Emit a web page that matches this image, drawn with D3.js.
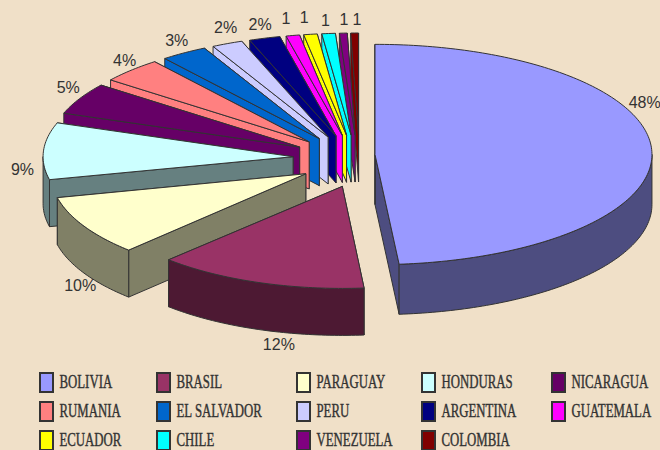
<!DOCTYPE html>
<html><head><meta charset="utf-8">
<script src="https://cdnjs.cloudflare.com/ajax/libs/d3/7.8.5/d3.min.js"></script>
<style>html,body{margin:0;padding:0;background:#F0E0C8;overflow:hidden}svg{display:block}</style>
</head><body><svg id="c" width="660" height="450"></svg>
<script>
// ---- data ----
const categories = ["BOLIVIA","BRASIL","PARAGUAY","HONDURAS","NICARAGUA","RUMANIA","EL SALVADOR","PERU","ARGENTINA","GUATEMALA","ECUADOR","CHILE","VENEZUELA","COLOMBIA"];
const values = [48,12,10,9,5,4,3,2,2,1,1,1,1,1];
const valueLabels = ["48%","12%","10%","9%","5%","4%","3%","2%","2%","1","1","1","1","1"];
const colors = ["#9999FF","#993366","#FFFFCC","#CCFFFF","#660066","#FF8080","#0066CC","#CCCCFF","#000080","#FF00FF","#FFFF00","#00FFFF","#800080","#800000"];
const sideColors = ["#4D4D80","#4D1933","#808066","#668080","#660066","#FF8080","#0066CC","#CCCCFF","#000080","#FF00FF","#FFFF00","#00FFFF","#800080","#800000"];

// ---- layout ----
const W = 660, H = 450, TAU = 2*Math.PI, RAD = Math.PI/180;
const rx = 250, ry = 102, depth = 47;
const ink = "#333333";
// perspective warp: true pie angle -> drawn ellipse parameter
const warp = d3.scaleLinear()
  .domain([0,.48,.60,.70,.95,.98,1].map(f => f*TAU))
  .range([0,175,224,257,347,356.4,360].map(a => a*RAD));
// label placement relative to each slice's rim
const labelShift = [[-7,-50],[24,62],[-4,63],[-21,18],[-13,-11],[-10,-10],[-12,-12],[-7,-16],[-10,-14],[-12,-17],[-11,-17],[-7,-13],[-2,-14],[1,-14]];
const legendX = [39,156,296,421,551], legendY = [372,401,430], legendPerRow = 5;

const svg = d3.select("#c");
svg.append("rect").attr("width",W).attr("height",H).attr("fill","#F0E0C8");

const pie = d3.pie().sort(null).value(d => d)(values);
const slices = pie.map((p,i) => {
  const t0 = warp(p.startAngle), t1 = warp(p.endAngle), tm = (t0+t1)/2;
  const s = Math.sin(tm), c = Math.cos(tm);
  // explosion of each slice, foreshortened differently on each side of the pie
  let ax, ay;
  if (s >= 0) { ax = 361 + 14*s; ay = 155.5 - 23*c; }
  else if (c > 0) { ax = 361 - 68*Math.pow(-s,.8); ay = 158 - 23*c; }
  else { ax = 365 + 68*s; ay = 160 - 28*c; }
  const grow = Math.max(0,s);
  const nearLeft = (c < 0 && s < -.5);   // front-left slices sit a little closer
  const Rx = rx*(1+.108*grow)*(nearLeft?1.02:1), Ry = ry*(1+.08*grow)*(nearLeft?1.04:1), D = depth*(1+.065*grow);
  const rim = t => [ax+Rx*Math.sin(t), ay-Ry*Math.cos(t)];
  return {i,t0,t1,tm,ax,ay,Rx,Ry,D,rim,fill:colors[i],side:sideColors[i]};
});

const line = d3.line();
const arcPts = (d,a,b) => { const n=Math.max(2,Math.ceil((b-a)/(1*RAD))); return d3.range(n+1).map(k=>d.rim(a+(b-a)*k/n)); };
const g = svg.append("g").attr("stroke",ink).attr("stroke-width",1).attr("stroke-linejoin","round");

slices.slice().reverse().forEach(d => {
  const down = p => [p[0],p[1]+d.D];
  const apex = [d.ax,d.ay];
  const poly = pts => g.append("path").attr("d",line(pts)+"Z").attr("fill",d.side);
  // radial walls
  [d.t1,d.t0].forEach(t => { const r=d.rim(t); poly([apex,r,down(r),down(apex)]); });
  // outer wall, only the part that faces the viewer
  const a = Math.max(d.t0,90*RAD), b = Math.min(d.t1,270*RAD);
  if (b>a) { const pts = arcPts(d,a,b); poly(pts.concat(pts.map(down).reverse())); }
  // top face
  g.append("path").attr("d",line([apex].concat(arcPts(d,d.t0,d.t1)))+"Z").attr("fill",d.fill);
});

// value labels: anchored on the slice rim from a fixed reference so they stay put
const labelBase = d => { const s=Math.sin(d.tm), c=Math.cos(d.tm);
  return [ (s>=0?375:361+68*s) + rx*(1+.108*Math.max(0,s))*s, (s>=0?157:158-(c>0?23:30)*c) - ry*(1+.08*Math.max(0,s))*c ]; };
svg.append("g").selectAll("text").data(slices).join("text")
  .attr("x",d => labelBase(d)[0]+labelShift[d.i][0])
  .attr("y",d => labelBase(d)[1]+labelShift[d.i][1]+5.5)
  .attr("text-anchor","middle")
  .attr("font-family","'Liberation Sans',Arial,sans-serif")
  .attr("font-size",16).attr("fill",ink)
  .text(d => valueLabels[d.i]);

// legend
const lg = svg.append("g").selectAll("g").data(categories).join("g")
  .attr("transform",(d,i)=>`translate(${legendX[i%legendPerRow]},${legendY[Math.floor(i/legendPerRow)]})`);
lg.append("rect").attr("x",1).attr("y",1).attr("width",13).attr("height",19)
  .attr("fill",(d,i)=>colors[i]).attr("stroke",ink).attr("stroke-width",2);
lg.append("text").attr("transform","translate(20.5,16) scale(.7125,1)")
  .attr("font-family","'Liberation Serif','Times New Roman',serif")
  .attr("font-size",18).attr("fill",ink).attr("stroke",ink).attr("stroke-width",.4)
  .text(d=>d);
</script></body></html>
